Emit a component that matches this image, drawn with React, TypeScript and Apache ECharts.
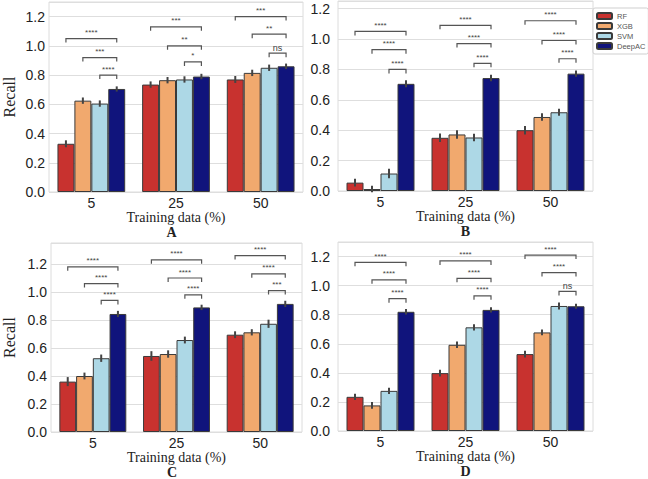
import React, { useEffect, useRef } from "react";
import * as echarts from "echarts";

const categories = ["5", "25", "50"];
const models = ["RF", "XGB", "SVM", "DeepAC"];
const colors = ["#c8322f", "#f1a96e", "#add8e6", "#10147c"];

// Recall values per panel: [RF, XGB, SVM, DeepAC], each over categories
const recallA = [
  [0.33, 0.735, 0.77],
  [0.625, 0.765, 0.815],
  [0.605, 0.77, 0.85],
  [0.705, 0.79, 0.86],
];
const recallB = [
  [0.055, 0.35, 0.4],
  [0.013, 0.372, 0.487],
  [0.115, 0.352, 0.518],
  [0.705, 0.743, 0.772],
];
const recallC = [
  [0.36, 0.543, 0.695],
  [0.4, 0.557, 0.712],
  [0.527, 0.657, 0.773],
  [0.843, 0.89, 0.915],
];
const recallD = [
  [0.235, 0.398, 0.529],
  [0.176, 0.593, 0.678],
  [0.276, 0.713, 0.86],
  [0.82, 0.833, 0.858],
];

// error bar half-widths
const errA = [
  [0.01, 0.008, 0.01],
  [0.008, 0.008, 0.008],
  [0.008, 0.008, 0.008],
  [0.004, 0.005, 0.005],
];
const errB = [
  [0.012, 0.015, 0.015],
  [0.008, 0.015, 0.012],
  [0.018, 0.012, 0.01],
  [0.01, 0.008, 0.008],
];
const errC = [
  [0.018, 0.02, 0.01],
  [0.01, 0.012, 0.008],
  [0.012, 0.01, 0.015],
  [0.008, 0.005, 0.008],
];
const errD = [
  [0.008, 0.01, 0.01],
  [0.01, 0.008, 0.006],
  [0.008, 0.008, 0.01],
  [0.005, 0.005, 0.004],
];

// significance brackets: heights per category [RF-DeepAC, XGB-DeepAC, SVM-DeepAC]
const bracketYA = [
  [1.05, 0.92, 0.8],
  [1.13, 1.0, 0.89],
  [1.2, 1.08, 0.95],
];
const bracketLabelA = [
  ["****", "***", "****"],
  ["***", "**", "*"],
  ["***", "**", "ns"],
];
const bracketYB = [
  [1.05, 0.93, 0.8],
  [1.09, 0.97, 0.84],
  [1.12, 0.99, 0.87],
];
const bracketLabelB = [
  ["****", "****", "****"],
  ["****", "****", "****"],
  ["****", "****", "****"],
];
const bracketYC = [
  [1.18, 1.06, 0.94],
  [1.23, 1.1, 0.98],
  [1.26, 1.13, 1.01],
];
const bracketLabelC = [
  ["****", "****", "****"],
  ["****", "****", "****"],
  ["****", "****", "***"],
];
const bracketYD = [
  [1.16, 1.04, 0.91],
  [1.17, 1.05, 0.93],
  [1.21, 1.09, 0.96],
];
const bracketLabelD = [
  ["****", "****", "****"],
  ["****", "****", "****"],
  ["****", "****", "ns"],
];

const yMax = [1.3, 1.25, 1.35, 1.3];
const panelLetters = ["A", "B", "C", "D"];
const xTitle = "Training data (%)";
const yTitle = "Recall";

const panels = [
  { values: recallA, errs: errA, by: bracketYA, bl: bracketLabelA },
  { values: recallB, errs: errB, by: bracketYB, bl: bracketLabelB },
  { values: recallC, errs: errC, by: bracketYC, bl: bracketLabelC },
  { values: recallD, errs: errD, by: bracketYD, bl: bracketLabelD },
];

const grids = [
  { left: 40, top: 2, width: 263, height: 190 },
  { left: 338, top: 1, width: 255, height: 190 },
  { left: 42, top: 243, width: 260, height: 189 },
  { left: 338, top: 242, width: 255, height: 189 },
];

const SANS = "'Liberation Sans', Arial, sans-serif";
const SERIF = "'Liberation Serif', 'Times New Roman', serif";
const BAR_FRAC = 0.8;

function buildOption() {
  const series: any[] = [];
  panels.forEach((p, pi) => {
    models.forEach((m, mi) => {
      series.push({
        name: m,
        type: "bar",
        xAxisIndex: pi,
        yAxisIndex: pi,
        data: p.values[mi],
        barGap: "0%",
        barCategoryGap: "20%",
        itemStyle: { color: colors[mi], borderColor: "#3a3a3a", borderWidth: 1 },
        z: 2,
      });
    });
    // error bars
    const errData: number[][] = [];
    models.forEach((m, mi) => {
      categories.forEach((c, ci) => {
        const v = p.values[mi][ci];
        const e = p.errs[mi][ci];
        errData.push([ci, mi, v - e, v + e]);
      });
    });
    series.push({
      type: "custom",
      xAxisIndex: pi,
      yAxisIndex: pi,
      data: errData,
      z: 5,
      silent: true,
      renderItem: (params: any, api: any) => {
        const ci = api.value(0);
        const mi = api.value(1);
        const lo = api.coord([ci, api.value(2)]);
        const hi = api.coord([ci, api.value(3)]);
        const bw = (api.size([1, 0])[0] * BAR_FRAC) / 4;
        const x = lo[0] + (mi - 1.5) * bw;
        return {
          type: "line",
          shape: { x1: x, y1: lo[1] + 2, x2: x, y2: hi[1] - 2 },
          style: { stroke: "#444", lineWidth: 2 },
        };
      },
    });
    // brackets
    const brData: number[][] = [];
    const brLabels: string[] = [];
    categories.forEach((c, ci) => {
      for (let k = 0; k < 3; k++) {
        brData.push([ci, p.by[ci][k], k]);
        brLabels.push(p.bl[ci][k]);
      }
    });
    series.push({
      type: "custom",
      xAxisIndex: pi,
      yAxisIndex: pi,
      data: brData,
      z: 6,
      silent: true,
      renderItem: (params: any, api: any) => {
        const ci = api.value(0);
        const yv = api.value(1);
        const from = api.value(2);
        const c = api.coord([ci, yv]);
        const bw = (api.size([1, 0])[0] * BAR_FRAC) / 4;
        const x1 = c[0] + (from - 1.5) * bw;
        const x2 = c[0] + 1.5 * bw;
        const y = c[1];
        const lab = brLabels[params.dataIndex];
        const isNs = lab === "ns";
        return {
          type: "group",
          children: [
            {
              type: "polyline",
              shape: { points: [[x1, y + 4], [x1, y], [x2, y], [x2, y + 4]] },
              style: { stroke: "#555", lineWidth: 1.2, fill: "none" },
            },
            {
              type: "text",
              x: (x1 + x2) / 2,
              y: isNs ? y - 1 : y - 2,
              style: {
                text: lab,
                fontSize: isNs ? 9 : 8,
                fontFamily: SANS,
                fill: "#444",
                align: "center",
                verticalAlign: "bottom",
              },
            },
          ],
        };
      },
    });
  });

  const xAxis = grids.map((g, i) => ({
    type: "category",
    gridIndex: i,
    data: categories,
    axisLine: { show: false },
    axisTick: { show: false },
    axisLabel: { fontSize: 14, color: "#222", fontFamily: SANS, margin: 4 },
    name: xTitle,
    nameLocation: "middle",
    nameGap: 18,
    nameTextStyle: { fontSize: 14, lineHeight: 14, color: "#222", fontFamily: SERIF },
  }));

  const yAxis = grids.map((g, i) => ({
    type: "value",
    gridIndex: i,
    min: 0,
    max: yMax[i],
    interval: 0.2,
    axisLine: { show: false },
    axisTick: { show: false },
    splitLine: { lineStyle: { color: "#dedede", width: 1.2 } },
    axisLabel: {
      fontSize: 14,
      color: "#222",
      fontFamily: SANS,
      margin: i % 2 === 0 ? 4 : 8,
      formatter: (v: number) =>
        Math.abs(v * 5 - Math.round(v * 5)) < 1e-6 ? v.toFixed(1) : "",
    },
    name: i % 2 === 0 ? yTitle : "",
    nameLocation: "middle",
    nameGap: i === 0 ? 32 : 34,
    nameTextStyle: { fontSize: 16, color: "#222", fontFamily: SERIF },
  }));

  const title = grids.map((g, i) => ({
    text: panelLetters[i],
    left: g.left + g.width / 2,
    top: g.top + g.height + 33,
    padding: 0,
    textAlign: "center",
    textStyle: {
      fontSize: 14,
      lineHeight: 14,
      fontWeight: "bold",
      color: "#222",
      fontFamily: SERIF,
    },
  }));

  return {
    animation: false,
    backgroundColor: "#fff",
    title,
    legend: {
      data: models,
      orient: "vertical",
      left: 593,
      top: 8,
      padding: [4, 3, 4, 3],
      itemWidth: 15,
      itemHeight: 6,
      itemGap: 2,
      backgroundColor: "#fff",
      borderColor: "#cfcfcf",
      borderWidth: 1,
      borderRadius: 2,
      textStyle: { fontSize: 7.5, color: "#555", fontFamily: SANS, lineHeight: 8 },
      selectedMode: false,
    },
    grid: grids.map((g) => ({
      ...g,
      show: true,
      borderColor: "#dcdcdc",
      borderWidth: 1,
      backgroundColor: "#fff",
      containLabel: false,
    })),
    xAxis,
    yAxis,
    series,
  };
}

export default function App() {
  const ref = useRef<HTMLDivElement>(null);
  useEffect(() => {
    if (!ref.current) return;
    const chart = echarts.init(ref.current, undefined, { renderer: "svg" });
    chart.setOption(buildOption() as any);
    return () => chart.dispose();
  }, []);
  return (
    <div
      ref={ref}
      style={{ position: "absolute", left: 0, top: 0, width: 648, height: 479 }}
    />
  );
}
